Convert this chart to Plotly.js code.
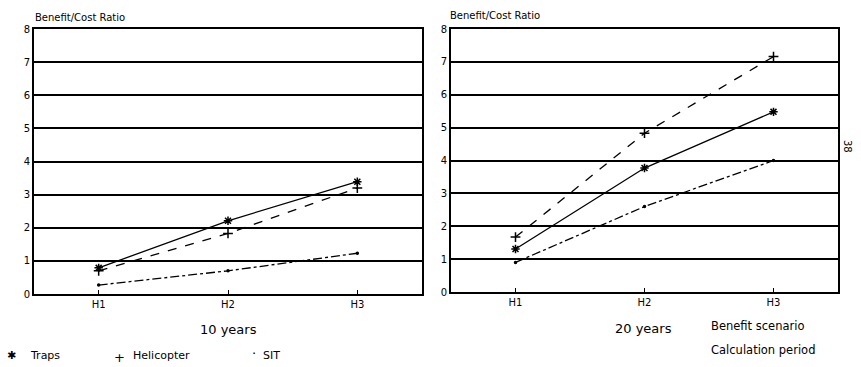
<!DOCTYPE html>
<html>
<head>
<meta charset="utf-8">
<script src="https://cdn.plot.ly/plotly-3.0.1.min.js"></script>
<style>html,body{margin:0;padding:0;background:#fff;}#chart{width:861px;height:367px;}</style>
</head>
<body>
<div id="chart"></div>
<script>
// Data
const scenarios = ["H1", "H2", "H3"];
const scenarioPos = [1, 2, 3];
const traps10 = [0.79, 2.21, 3.39];
const heli10 = [0.70, 1.83, 3.20];
const sit10 = [0.27, 0.70, 1.23];
const traps20 = [1.31, 3.77, 5.48];
const heli20 = [1.67, 4.83, 7.16];
const sit20 = [0.90, 2.60, 4.00];
const yTicks = [0, 1, 2, 3, 4, 5, 6, 7, 8];

const W = 861, H = 367;
const px = x => x / W;
const py = y => 1 - y / H;
const FONT = "DejaVu Sans, Liberation Sans, sans-serif";

function series(y, xa, ya, dash, symbol, msize) {
  return {
    x: scenarioPos, y: y, xaxis: xa, yaxis: ya, type: "scatter", mode: "lines+markers",
    line: {color: "#000", width: 1.3, dash: dash},
    marker: {symbol: symbol, size: msize, color: "#000", line: {color: "#000", width: 1.5}},
    showlegend: false, hoverinfo: "skip"
  };
}

const data = [
  series(traps10, "x", "y", "solid", "asterisk-open", 7),
  series(heli10, "x", "y", "dash", "cross-thin-open", 7),
  series(sit10, "x", "y", "dashdot", "circle", 2),
  series(traps20, "x2", "y2", "solid", "asterisk-open", 7),
  series(heli20, "x2", "y2", "dash", "cross-thin-open", 7),
  series(sit20, "x2", "y2", "dashdot", "circle", 2)
];

function xaxis(domain, anchor) {
  return {
    domain: domain, anchor: anchor, type: "linear", range: [0.5, 3.5],
    tickmode: "array", tickvals: scenarioPos, ticktext: scenarios,
    ticks: "inside", ticklen: 4, tickcolor: "#000", tickwidth: 1,
    showline: true, linecolor: "#000", linewidth: 2, mirror: true,
    showgrid: false, zeroline: false,
    tickfont: {family: FONT, size: 10, color: "#000"}
  };
}
function yaxis(domain, anchor) {
  return {
    domain: domain, anchor: anchor, range: [0, 8],
    tickmode: "array", tickvals: yTicks,
    ticks: "", showline: true, linecolor: "#000", linewidth: 2, mirror: true,
    showgrid: true, gridcolor: "#000", gridwidth: 2, zeroline: false,
    tickfont: {family: FONT, size: 10, color: "#000"}
  };
}

function ann(text, x, y, size, xanchor, extra) {
  return Object.assign({
    text: text, xref: "paper", yref: "paper", x: px(x), y: py(y),
    xanchor: xanchor || "left", yanchor: "middle", showarrow: false,
    font: {family: FONT, size: size, color: "#000"}
  }, extra || {});
}

const layout = {
  width: W, height: H,
  margin: {l: 0, r: 0, t: 0, b: 0},
  paper_bgcolor: "#fff", plot_bgcolor: "#fff",
  showlegend: false,
  xaxis: xaxis([px(34), px(422)], "y"),
  yaxis: yaxis([py(294), py(29)], "x"),
  xaxis2: xaxis([px(451), px(838)], "y2"),
  yaxis2: yaxis([py(292), py(29)], "x2"),
  annotations: [
    ann("Benefit/Cost Ratio", 33, 17, 10),
    ann("Benefit/Cost Ratio", 448, 16, 10),
    ann("10 years", 229, 329, 13, "center"),
    ann("20 years", 643, 328, 13, "center"),
    ann("Benefit scenario", 709, 326, 11.5),
    ann("Calculation period", 709, 350, 11.5),
    ann("✱", 5, 355, 11),
    ann("Traps", 28, 355, 11),
    ann("+", 112, 357, 13),
    ann("Helicopter", 131, 355, 11),
    ann("·", 250, 353, 13),
    ann("SIT", 261, 355, 11),
    ann("38", 848, 146, 10, "center", {textangle: 90})
  ]
};

Plotly.newPlot("chart", data, layout, {staticPlot: true, displayModeBar: false});
</script>
</body>
</html>
